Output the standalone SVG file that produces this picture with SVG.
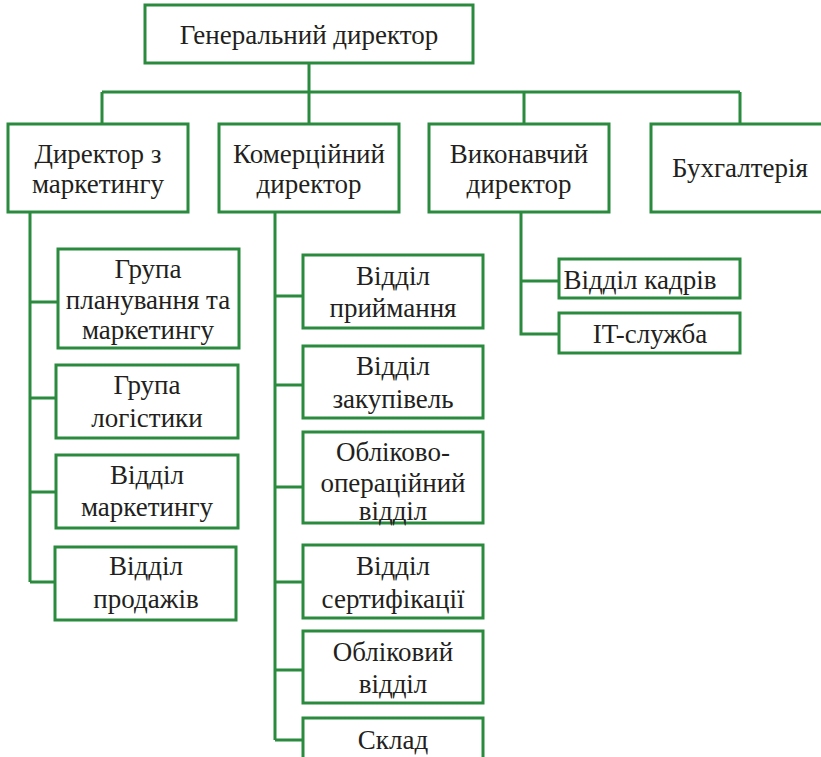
<svg xmlns="http://www.w3.org/2000/svg" width="821" height="757" viewBox="0 0 821 757">
<style>
.box{fill:#fff;stroke:#2a8a3e;stroke-width:3}
.ln{fill:none;stroke:#2a8a3e;stroke-width:3}
.t{font-family:'Liberation Serif';font-size:27px;fill:#231f20;text-anchor:middle}
</style>
<rect width="821" height="757" fill="#fff"/>
<g id="connectors">
<path class="ln" d="M309 63V92M102 92H740M102 92V124M309 92V124M524 92V124M740 92V124"/>
<path class="ln" d="M30 212V582M30 302H58M30 398H56M30 492H56M30 582H55"/>
<path class="ln" d="M275 212V740M275 296H303M275 385H303M275 487H303M275 582H303M275 670H303M275 740H303"/>
<path class="ln" d="M521 212V334H559M521 281H559"/>
</g>
<g id="gen"><rect class="box" x="145" y="5" width="328" height="58"/><text class="t" font-family="Liberation Serif" x="309" y="44">Генеральний директор</text></g>
<g id="dirmark"><rect class="box" x="8" y="124" width="180" height="88"/><text class="t" font-family="Liberation Serif" x="98" y="163">Директор з</text><text class="t" font-family="Liberation Serif" x="98" y="193">маркетингу</text></g>
<g id="comm"><rect class="box" x="219" y="124" width="180" height="88"/><text class="t" font-family="Liberation Serif" x="309" y="163">Комерційний</text><text class="t" font-family="Liberation Serif" x="309" y="193">директор</text></g>
<g id="exec"><rect class="box" x="429" y="124" width="180" height="88"/><text class="t" font-family="Liberation Serif" x="519" y="163">Виконавчий</text><text class="t" font-family="Liberation Serif" x="519" y="193">директор</text></g>
<g id="acc"><rect class="box" x="651" y="124" width="180" height="88"/><text class="t" font-family="Liberation Serif" x="740" y="177">Бухгалтерія</text></g>
<g id="g1"><rect class="box" x="58" y="249" width="181" height="99"/><text class="t" font-family="Liberation Serif" x="148" y="278">Група</text><text class="t" font-family="Liberation Serif" x="148" y="309">планування та</text><text class="t" font-family="Liberation Serif" x="148" y="339">маркетингу</text></g>
<g id="g2"><rect class="box" x="56" y="365" width="182" height="73"/><text class="t" font-family="Liberation Serif" x="147" y="394">Група</text><text class="t" font-family="Liberation Serif" x="147" y="427">логістики</text></g>
<g id="g3"><rect class="box" x="56" y="455" width="182" height="73"/><text class="t" font-family="Liberation Serif" x="147" y="484">Відділ</text><text class="t" font-family="Liberation Serif" x="147" y="516">маркетингу</text></g>
<g id="g4"><rect class="box" x="55" y="547" width="181" height="73"/><text class="t" font-family="Liberation Serif" x="146" y="575">Відділ</text><text class="t" font-family="Liberation Serif" x="146" y="608">продажів</text></g>
<g id="c1"><rect class="box" x="303" y="255" width="180" height="73"/><text class="t" font-family="Liberation Serif" x="393" y="285">Відділ</text><text class="t" font-family="Liberation Serif" x="393" y="317">приймання</text></g>
<g id="c2"><rect class="box" x="303" y="346" width="180" height="72"/><text class="t" font-family="Liberation Serif" x="393" y="375">Відділ</text><text class="t" font-family="Liberation Serif" x="393" y="408">закупівель</text></g>
<g id="c3"><rect class="box" x="303" y="432" width="180" height="91"/><text class="t" font-family="Liberation Serif" x="393" y="461">Обліково-</text><text class="t" font-family="Liberation Serif" x="393" y="492">операційний</text><text class="t" font-family="Liberation Serif" x="393" y="520">відділ</text></g>
<g id="c4"><rect class="box" x="303" y="545" width="180" height="73"/><text class="t" font-family="Liberation Serif" x="393" y="575">Відділ</text><text class="t" font-family="Liberation Serif" x="393" y="608">сертифікації</text></g>
<g id="c5"><rect class="box" x="303" y="631" width="180" height="72"/><text class="t" font-family="Liberation Serif" x="393" y="661">Обліковий</text><text class="t" font-family="Liberation Serif" x="393" y="693">відділ</text></g>
<g id="c6"><rect class="box" x="303" y="718" width="180" height="60"/><text class="t" font-family="Liberation Serif" x="393" y="749">Склад</text></g>
<g id="e1"><rect class="box" x="559" y="259" width="181" height="39"/><text class="t" font-family="Liberation Serif" x="640" y="289">Відділ кадрів</text></g>
<g id="e2"><rect class="box" x="559" y="313" width="181" height="40"/><text class="t" font-family="Liberation Serif" x="650" y="343">IT-служба</text></g>
</svg>
